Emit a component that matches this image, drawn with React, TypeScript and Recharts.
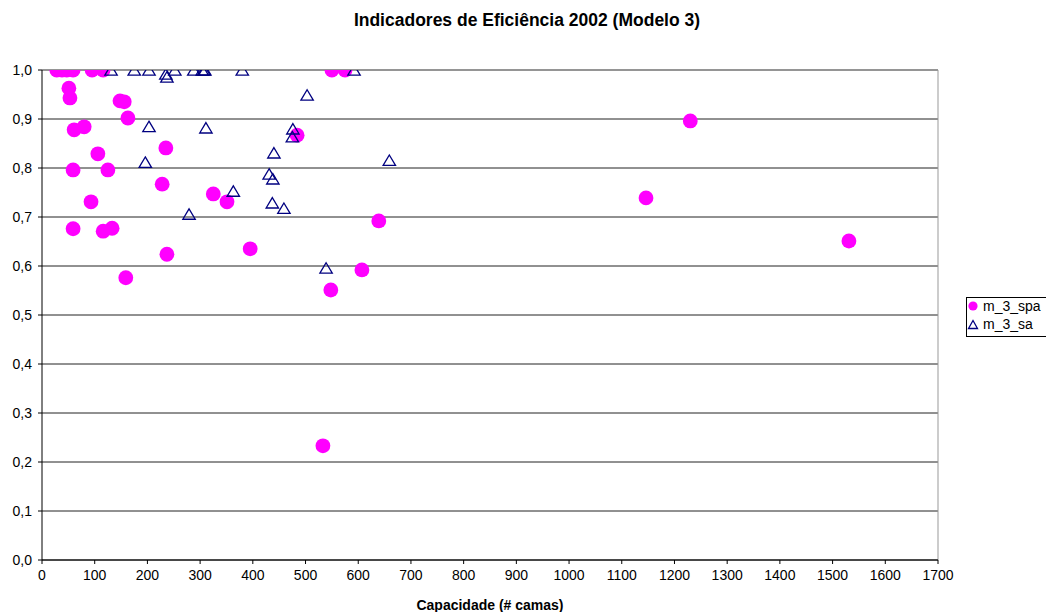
import React from "react";
import {
  ScatterChart,
  Scatter,
  XAxis,
  YAxis,
  CartesianGrid,
  ReferenceLine,
} from "recharts";

const spaX = [28, 38, 47, 59, 95, 116, 550, 575, 51, 53, 61, 80, 148, 156, 163, 106, 235, 59, 125, 228, 93, 325, 351, 59, 116, 133, 237, 159, 639, 395, 607, 548, 484, 533, 1146, 1230, 1531];
const spaY = [1.0, 1.0, 1.0, 1.0, 1.0, 1.0, 1.0, 1.0, 0.963, 0.943, 0.878, 0.884, 0.937, 0.935, 0.902, 0.829, 0.841, 0.796, 0.796, 0.767, 0.731, 0.747, 0.731, 0.676, 0.671, 0.677, 0.624, 0.576, 0.692, 0.635, 0.592, 0.551, 0.867, 0.233, 0.739, 0.896, 0.651];

const saX = [131, 175, 203, 235, 237, 252, 288, 304, 307, 309, 380, 592, 503, 203, 311, 476, 475, 440, 196, 659, 431, 438, 363, 437, 459, 279, 539];
const saY = [1.0, 1.0, 1.0, 0.992, 0.986, 1.0, 1.0, 1.0, 1.0, 1.0, 1.0, 1.0, 0.949, 0.885, 0.882, 0.88, 0.864, 0.831, 0.812, 0.816, 0.788, 0.778, 0.753, 0.729, 0.718, 0.706, 0.596];

const xTicks = [0, 100, 200, 300, 400, 500, 600, 700, 800, 900, 1000, 1100, 1200, 1300, 1400, 1500, 1600, 1700];
const yTicks = [0, 0.1, 0.2, 0.3, 0.4, 0.5, 0.6, 0.7, 0.8, 0.9, 1.0];

const title = "Indicadores de Eficiência 2002 (Modelo 3)";
const xLabel = "Capacidade (# camas)";
const seriesNames = ["m_3_spa", "m_3_sa"];

const spaData = spaX.map((x, i) => ({ x, y: spaY[i] }));
const saData = saX.map((x, i) => ({ x, y: saY[i] }));

const FONT = "'Liberation Sans', Arial, sans-serif";

const Circle = (props: any) => {
  const { cx, cy } = props;
  if (cx == null || cy == null) return null;
  return <circle cx={cx} cy={cy} r={7.4} fill="#FF00FF" />;
};

const Triangle = (props: any) => {
  const { cx, cy } = props;
  if (cx == null || cy == null) return null;
  const w = 6.2;
  const h = 5.2;
  return (
    <polygon
      points={`${cx},${cy - h} ${cx + w},${cy + h} ${cx - w},${cy + h}`}
      fill="none"
      stroke="#000080"
      strokeWidth={1.3}
    />
  );
};

export default function App() {
  return (
    <div
      style={{
        position: "absolute",
        left: 0,
        top: 0,
        width: 1046,
        height: 612,
        overflow: "hidden",
        background: "#fff",
        fontFamily: FONT,
      }}
    >
      <div
        style={{
          position: "absolute",
          left: 0,
          width: 1054,
          top: 10,
          textAlign: "center",
          fontWeight: "bold",
          fontSize: 17.5,
          lineHeight: "20px",
          color: "#000",
          whiteSpace: "nowrap",
        }}
      >
        {title}
      </div>
      <ScatterChart
        width={1046}
        height={612}
        margin={{ top: 70, right: 108, bottom: 0, left: 6 }}
        style={{ fontFamily: FONT }}
      >
        <CartesianGrid horizontal vertical={false} stroke="#222" strokeOpacity={1} />
        <ReferenceLine x={1700} stroke="#999" />
        <ReferenceLine y={1} stroke="#999" />
        <XAxis
          type="number"
          dataKey="x"
          domain={[0, 1700]}
          ticks={xTicks}
          interval={0}
          height={52}
          stroke="#000"
          tickSize={4}
          tickMargin={6}
          tick={{ fill: "#000", fontSize: 14 }}
          label={{ value: xLabel, position: "insideBottom", offset: 2, style: { fontWeight: "bold", fontSize: 14, fill: "#000" } }}
          allowDataOverflow
        />
        <YAxis
          type="number"
          dataKey="y"
          domain={[0, 1]}
          ticks={yTicks}
          interval={0}
          width={36}
          stroke="#000"
          tickSize={4}
          tickMargin={6}
          tick={{ fill: "#000", fontSize: 14 }}
          tickFormatter={(v: number) => v.toFixed(1).replace(".", ",")}
          allowDataOverflow
        />
        <Scatter name={seriesNames[0]} data={spaData} shape={Circle} isAnimationActive={false} />
        <Scatter name={seriesNames[1]} data={saData} shape={Triangle} isAnimationActive={false} />
      </ScatterChart>
      <div
        style={{
          position: "absolute",
          left: 966,
          top: 297,
          width: 100,
          height: 38,
          border: "1px solid #000",
          fontSize: 14,
          lineHeight: "16px",
          color: "#000",
          background: "#fff",
        }}
      >
        <svg width={16} height={40} style={{ position: "absolute", left: 0, top: 0 }}>
          <circle cx={6} cy={8} r={4.6} fill="#FF00FF" />
          <polygon points="6,22.5 10.5,30.5 1.5,30.5" fill="none" stroke="#000080" strokeWidth={1.3} />
        </svg>
        <div style={{ position: "absolute", left: 16, top: 0 }}>{seriesNames[0]}</div>
        <div style={{ position: "absolute", left: 16, top: 18 }}>{seriesNames[1]}</div>
      </div>
    </div>
  );
}
